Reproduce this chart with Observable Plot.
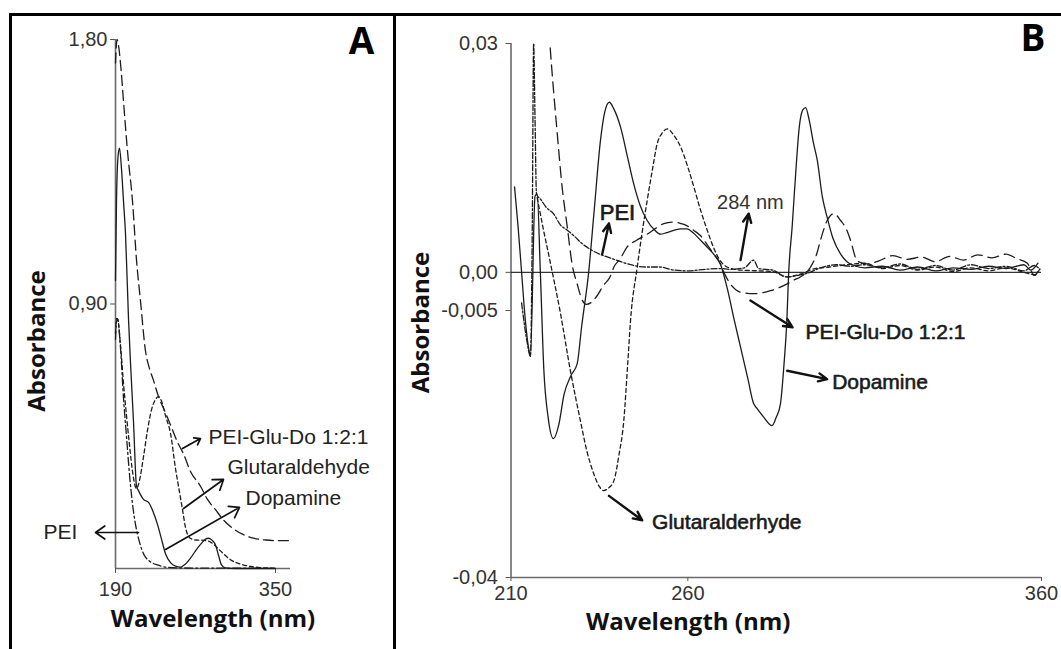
<!DOCTYPE html>
<html><head><meta charset="utf-8">
<script src="https://cdn.jsdelivr.net/npm/d3@7"></script>
<script src="https://cdn.jsdelivr.net/npm/@observablehq/plot@0.6"></script>
<style>
body{margin:0;background:#fff;}
#wrap{position:relative;width:1061px;height:649px;overflow:hidden;background:#fff;}
.bar{position:absolute;background:#000;}
</style></head><body><div id="wrap"></div>
<script>
// ---------- Panel A data (wavelength nm, absorbance) ----------
const A_xTicks = [190, 350];
const A_yTicks = [1.8, 0.9];
const A_PEIGluDo_wl  = [190,191.5,193,196,198,202,207,211,215,220,224,228,233,240,246,252,258,265,275,282,290,298,308,318,328,340,350,363];
const A_PEIGluDo_abs = [1.72,1.80,1.78,1.68,1.59,1.42,1.25,1.05,0.91,0.74,0.68,0.64,0.585,0.53,0.48,0.43,0.39,0.33,0.28,0.235,0.20,0.165,0.135,0.115,0.103,0.097,0.095,0.095];
const A_Glut_wl  = [190,191,192,195,198,201,204,207,211,214,218,222,226,230,233,236,240,245,250,253,257,260,264,270,278,285,292,298,305,315,325,335,350];
const A_Glut_abs = [0.80,0.85,0.85,0.76,0.63,0.52,0.42,0.33,0.272,0.30,0.38,0.47,0.54,0.575,0.585,0.57,0.52,0.46,0.34,0.28,0.20,0.14,0.105,0.097,0.096,0.09,0.07,0.05,0.03,0.015,0.007,0.003,0.001];
const A_Dopa_wl  = [190,191,192.5,194,196,198,200,203,205,208,211,213,218,223,228,232,236,240,245,250,255,260,265,270,275,280,283,287,290,293,296,300,310,350];
const A_Dopa_abs = [0.98,1.25,1.40,1.43,1.36,1.25,1.14,0.85,0.70,0.50,0.28,0.265,0.235,0.225,0.19,0.15,0.10,0.05,0.02,0.008,0.005,0.015,0.035,0.06,0.082,0.10,0.103,0.095,0.08,0.045,0.012,0.002,0,0];
const A_PEI_wl  = [190,191,192,195,198,201,204,207,210,214,218,224,232,242,255,280,320,350];
const A_PEI_abs = [0.78,0.84,0.85,0.75,0.58,0.45,0.32,0.22,0.15,0.09,0.05,0.025,0.012,0.004,0.002,0.001,0.001,0.0];

// ---------- Panel B data ----------
const B_xTicks = [210, 260, 360];
const B_yTicks = [0.03, 0, -0.005, -0.04];
const B_yTickLabels = ["0,03", "0,00", "-0,005", "-0,04"];
const B_Dopa_wl  = [211,212,213,214,215,215.5,216.8,217.4,218.3,219.3,220.5,222,223.5,225,227,228.7,230,232,233.5,235.3,236.5,237.8,239,241,243,244.7,246.5,248.5,250.5,252.3,254,256,258,259.8,261.5,263.6,265.5,267.3,269.2,271.1,273,275,277,278.6,279.5,281.5,283.8,285,286.2,287.2,288,288.5,289.5,290.5,291.5,292.5,293.3,294.3,295.5,296.6,298,299.4,301,303.2,305,307,310,315,320,325,330,335,340,345,350,355,357,359];
const B_Dopa_abs = [0.0112,0.006,0.0,-0.006,-0.010,-0.011,0.010,0.0103,0.0,-0.0129,-0.019,-0.0218,-0.020,-0.016,-0.0135,-0.012,-0.007,0.0002,0.008,0.0173,0.021,0.0223,0.0215,0.019,0.015,0.0116,0.0088,0.0068,0.0056,0.0050,0.0052,0.0055,0.0057,0.0057,0.0052,0.0042,0.0033,0.0024,0.0011,-0.002,-0.006,-0.010,-0.014,-0.0172,-0.0178,-0.019,-0.0201,-0.019,-0.0172,-0.012,-0.0063,-0.0002,0.006,0.013,0.019,0.0213,0.0216,0.020,0.017,0.0147,0.010,0.0072,0.0045,0.0024,0.0014,0.0009,0.0006,0.0008,0.0003,0.0007,0.0002,0.0006,0.0004,0.0008,0.0005,0.0010,0.0003,0.0012];
const B_PEI_wl  = [213,214.5,215.5,216,216.4,216.8,217.2,218.5,220,222,224,226,228,230,232.5,235,238,241,244.7,248,252,256,260,265,269,272,276,278.6,280,284,288,291,294,297.5,302,306,310,315,320,325,330,335,340,345,350,355,358,359.5];
const B_PEI_abs = [-0.004,-0.009,-0.011,0.005,0.030,0.020,0.0103,0.0095,0.0085,0.0077,0.0062,0.0055,0.0047,0.0038,0.0030,0.0024,0.0019,0.0014,0.0009,0.0007,0.0007,0.0003,0.0002,0.0004,0.0005,0.0004,0.0006,0.0016,0.0005,0.0003,-0.0006,-0.0004,-0.0001,0.0006,0.0010,0.0008,0.0010,0.0006,0.0011,0.0004,0.0009,0.0003,0.0010,0.0005,0.0008,0.0002,0.0009,0.0004];
const B_Glut_wl  = [217.4,219,221.2,224,226.8,229.6,231.5,233.4,235,236.2,237.5,239.1,240.5,241.9,243,243.8,245.7,247,248.5,250,251.3,252.8,254.2,256,258,260,261.7,263.5,265.5,267.5,269.2,271.1,275,280,284,288,292,296,300,305,310,315,320,325,330,335,340,345,350,355,358,360];
const B_Glut_abs = [0.0098,0.006,0.0011,-0.0054,-0.0129,-0.0194,-0.0235,-0.0264,-0.0281,-0.0286,-0.0283,-0.0273,-0.024,-0.0194,-0.012,-0.0063,0.0007,0.005,0.0094,0.0135,0.0168,0.0183,0.0188,0.0180,0.0164,0.0138,0.0112,0.0083,0.0055,0.003,0.0015,0.0007,0.0003,0.0002,0.0001,-0.0006,-0.0002,0.0005,0.0007,0.0010,0.0012,0.0005,0.0009,0.0003,0.0007,0.0001,0.0006,0.0002,0.0006,0.0,-0.0003,0.0008];
const B_PGD_wl  = [219,221,223,224.5,225.9,227.3,228.7,230,231.3,232.5,234.3,236,238.1,239.1,240.9,242.8,245.5,248.5,251,253.2,256,258,259.8,261.7,263.6,265.5,267.3,269.2,270.5,272,274.9,278.6,283.4,288.1,290,291.8,294.7,296.5,297.5,299.4,301.3,303.2,305,306,307.9,310.7,314,318,322,326,330,334,338,342,346,350,353,356,358,359.5];
const B_PGD_abs = [0.045,0.030,0.0186,0.011,0.006,0.001,-0.0015,-0.0035,-0.0042,-0.004,-0.0031,-0.0018,-0.0005,0.0007,0.0018,0.0033,0.0042,0.005,0.0058,0.0064,0.0066,0.0064,0.0061,0.0055,0.0048,0.0036,0.0024,0.0011,-0.0003,-0.0015,-0.0026,-0.0028,-0.0024,-0.0015,-0.001,-0.0006,0.0007,0.0025,0.0042,0.0068,0.0077,0.0068,0.0055,0.0042,0.0015,0.0011,0.0015,0.0022,0.0017,0.0020,0.0014,0.0021,0.0016,0.0023,0.0019,0.0024,0.0018,0.0012,-0.0004,0.0006];

// ---------- helpers ----------
const rows = (wl, ab) => wl.map((w, i) => ({wl: w, abs: ab[i]}));
const INK = "#1c1c1c";
function curve(wl, ab, dash, extra = {}) {
  return Plot.line(rows(wl, ab), {x: "wl", y: "abs", stroke: INK, strokeWidth: 1.3,
    strokeDasharray: dash, curve: "monotone-x", ...extra});
}
const commaFmt = d => d.toFixed(2).replace(".", ",");
const baseStyle = {fontFamily: "'Liberation Sans', Arial, sans-serif", fontSize: "20px",
  color: "#333", background: "transparent", overflow: "visible"};
const tickFont = {fontSize: 20, fontFamily: "'Liberation Sans', Arial, sans-serif", fill: "#333"};
const titleFont = {fontFamily: "'Open Sans', sans-serif", fontWeight: "bold", fontSize: 24, fill: "#111"};
const panelFont = {fontFamily: "'Open Sans', sans-serif", fontWeight: "bold", fontSize: 37, fill: "#000"};

// ---------- Panel A ----------
const plotA = Plot.plot({
  width: 393, height: 649,
  marginLeft: 115, marginRight: 103, marginTop: 39, marginBottom: 81,
  x: {domain: [190, 365]},
  y: {domain: [0, 1.8]},
  style: baseStyle,
  marks: [
    Plot.ruleX([190], {stroke: "#6a6a6a", strokeWidth: 1.6}),
    Plot.ruleY([0], {stroke: "#6a6a6a", strokeWidth: 1.6}),
    Plot.axisY({ticks: A_yTicks, tickFormat: commaFmt, tickSize: 5, tickPadding: 3, stroke: "#555", label: null, ...tickFont}),
    Plot.axisX({ticks: A_xTicks, tickFormat: d => String(d), tickSize: 5, tickPadding: 8, stroke: "#555", label: null, ...tickFont}),
    curve(A_PEI_wl, A_PEI_abs, "8,3,2,3"),
    curve(A_Glut_wl, A_Glut_abs, "4,3"),
    curve(A_Dopa_wl, A_Dopa_abs, null),
    curve(A_PEIGluDo_wl, A_PEIGluDo_abs, "10,5"),
    Plot.arrow([
      {x1: 257, y1: 0.408, x2: 275, y2: 0.442},
      {x1: 258, y1: 0.204, x2: 298, y2: 0.303},
      {x1: 240, y1: 0.065, x2: 314, y2: 0.208},
      {x1: 213, y1: 0.1225, x2: 170, y2: 0.1225}
    ], {x1: "x1", y1: "y1", x2: "x2", y2: "y2", stroke: "#111", strokeWidth: 1.7, headLength: 10, headAngle: 70}),
    Plot.text([
      {x: 283, y: 0.446, t: "PEI-Glu-Do 1:2:1"},
      {x: 302, y: 0.344, t: "Glutaraldehyde"},
      {x: 320, y: 0.238, t: "Dopamine"}
    ], {x: "x", y: "y", text: "t", textAnchor: "start", fontSize: 21, fill: "#222"}),
    Plot.text([{x: 135, y: 0.1225, t: "PEI"}], {x: "x", y: "y", text: "t", textAnchor: "middle", fontSize: 21, fill: "#222"}),
    Plot.text(["Absorbance"], {text: d => d, frameAnchor: "left", dx: -78, dy: 37, rotate: -90,
      textAnchor: "middle", lineAnchor: "middle", ...titleFont}),
    Plot.text(["Wavelength (nm)"], {text: d => d, frameAnchor: "bottom", dx: 10, dy: 51,
      textAnchor: "middle", lineAnchor: "middle", ...titleFont}),
    Plot.text(["A"], {text: d => d, frameAnchor: "top-right", dx: 71, dy: 3,
      textAnchor: "middle", lineAnchor: "middle", ...panelFont})
  ]
});

// ---------- Panel B ----------
const plotB = Plot.plot({
  width: 665, height: 649,
  marginLeft: 114.5, marginRight: 20, marginTop: 43, marginBottom: 72,
  x: {domain: [210, 360]},
  y: {domain: [-0.04, 0.03]},
  style: baseStyle,
  marks: [
    Plot.ruleX([210], {stroke: "#6a6a6a", strokeWidth: 1.6}),
    Plot.ruleY([-0.04], {stroke: "#6a6a6a", strokeWidth: 1.6}),
    Plot.ruleY([0], {stroke: "#333", strokeWidth: 1.2}),
    Plot.axisY({ticks: B_yTicks, tickFormat: d => B_yTickLabels[B_yTicks.indexOf(d)], tickSize: 5, tickPadding: 8, stroke: "#555", label: null, ...tickFont}),
    Plot.axisX({ticks: B_xTicks, tickFormat: d => String(d), tickSize: 4, tickPadding: 4, stroke: "#555", label: null, ...tickFont}),
    curve(B_PEI_wl, B_PEI_abs, "6,2,2,2", {clip: true}),
    curve(B_Glut_wl, B_Glut_abs, "4,3", {clip: true}),
    curve(B_PGD_wl, B_PGD_abs, "11,6", {clip: true}),
    curve(B_Dopa_wl, B_Dopa_abs, null, {clip: true}),
    Plot.arrow([
      {x1: 235.8, y1: 0.0024, x2: 237.7, y2: 0.0064},
      {x1: 274.9, y1: 0.0016, x2: 277.2, y2: 0.0077},
      {x1: 277.7, y1: -0.0037, x2: 289.6, y2: -0.0072},
      {x1: 288.1, y1: -0.0129, x2: 299.4, y2: -0.0140},
      {x1: 237.7, y1: -0.0293, x2: 247.1, y2: -0.0325}
    ], {x1: "x1", y1: "y1", x2: "x2", y2: "y2", stroke: "#111", strokeWidth: 2.4, headLength: 6, headAngle: 50}),
    Plot.text([
      {x: 293.3, y: -0.0079, t: "PEI-Glu-Do 1:2:1"},
      {x: 300.8, y: -0.0144, t: "Dopamine"},
      {x: 249.9, y: -0.0328, t: "Glutaralderhyde"}
    ], {x: "x", y: "y", text: "t", textAnchor: "start", fontSize: 21, fill: "#1a1a1a", stroke: "#1a1a1a", strokeWidth: 0.6}),
    Plot.text([{x: 240.1, y: 0.0078, t: "PEI"}], {x: "x", y: "y", text: "t", textAnchor: "middle",
      fontSize: 22, fill: "#1a1a1a", stroke: "#1a1a1a", strokeWidth: 0.7}),
    Plot.text([{x: 277.7, y: 0.0092, t: "284 nm"}], {x: "x", y: "y", text: "t", textAnchor: "middle", fontSize: 20, fill: "#333"}),
    Plot.text(["Absorbance"], {text: d => d, frameAnchor: "left", dx: -89.5, dy: 12, rotate: -90,
      textAnchor: "middle", lineAnchor: "middle", ...titleFont}),
    Plot.text(["Wavelength (nm)"], {text: d => d, frameAnchor: "bottom", dx: -88, dy: 45,
      textAnchor: "middle", lineAnchor: "middle", ...titleFont}),
    Plot.text(["B"], {text: d => d, frameAnchor: "top-right", dx: -8.5, dy: -4.5,
      textAnchor: "middle", lineAnchor: "middle", ...panelFont})
  ]
});

const wrap = document.getElementById("wrap");
function place(svg, left, width) {
  svg.style.position = "absolute";
  svg.style.left = left + "px";
  svg.style.top = "0px";
  svg.style.maxWidth = "none";
  svg.style.width = width + "px";
  svg.style.height = "649px";
  wrap.appendChild(svg);
}
place(plotA, 0, 393);
place(plotB, 396, 665);

// frame borders
[[10, 13, 1051, 3], [9, 13, 3, 636], [393, 13, 3, 636]].forEach(([l, t, w, h]) => {
  const d = document.createElement("div");
  d.className = "bar";
  Object.assign(d.style, {left: l + "px", top: t + "px", width: w + "px", height: h + "px"});
  wrap.appendChild(d);
});
</script></body></html>
